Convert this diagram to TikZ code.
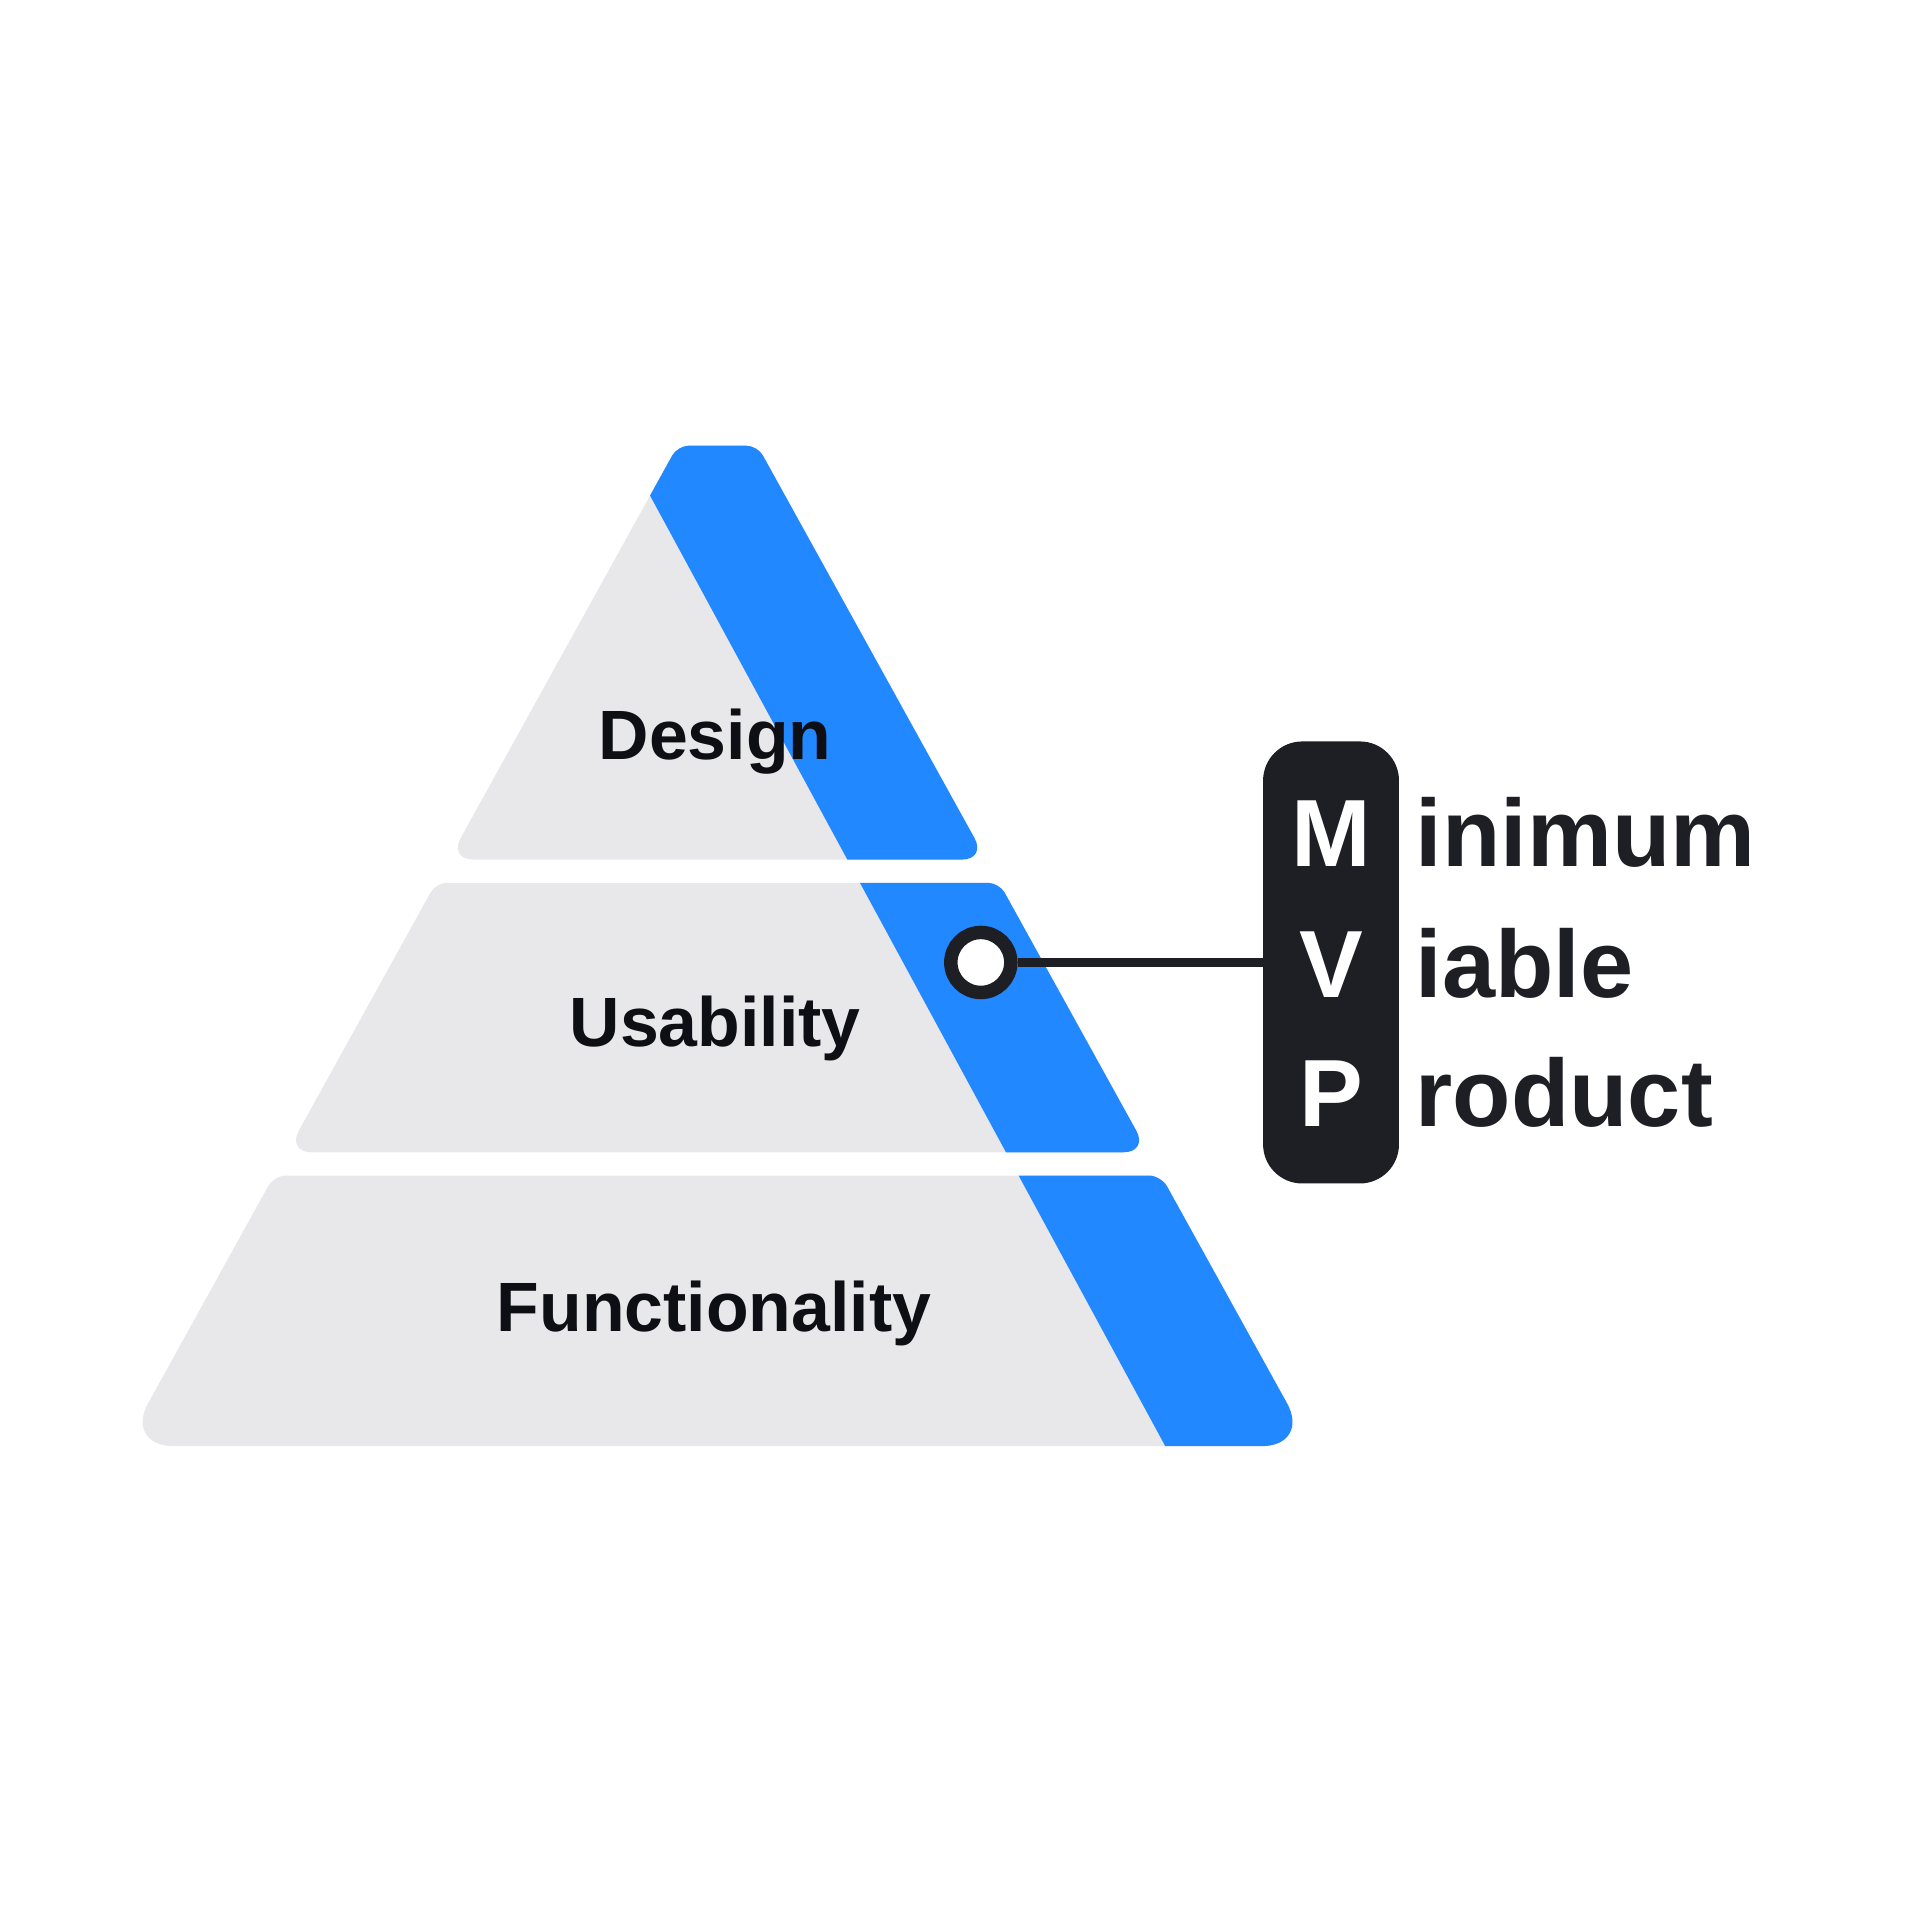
\documentclass[tikz,border=0pt]{standalone}
\usepackage{fontspec}
\setmainfont{Liberation Sans}
\usetikzlibrary{positioning}
\definecolor{tiergrey}{RGB}{232,232,235}
\definecolor{tierblue}{RGB}{33,136,255}
\definecolor{mvpdark}{RGB}{30,31,36}
\definecolor{labelink}{RGB}{14,15,20}
\begin{document}
\begin{tikzpicture}[x=1pt,y=-1pt,
  tierlabel/.style={font=\fontsize{57}{60}\selectfont\bfseries,text=labelink,anchor=base,inner sep=0},
  mvpletter/.style={font=\fontsize{78}{80}\selectfont\bfseries,text=white,anchor=base,inner sep=0},
  mvpword/.style={font=\fontsize{78}{80}\selectfont\bfseries,text=mvpdark,anchor=base west,inner sep=0}]
\useasboundingbox (0,0) rectangle (1568,1568);
% pyramid tiers, blue band on the right
\foreach \yt/\yb/\rt/\rb in {364/702/9pt/20pt,721/941/9pt/20pt,960/1181/10pt/40pt}{
  \pgfmathsetmacro\wt{0.553*(\yt-305)}
  \pgfmathsetmacro\wb{0.553*(\yb-305)}
  \pgfmathsetmacro\bt{692+0.542*(\yt-20-702)}
  \pgfmathsetmacro\bb{692+0.542*(\yb+20-702)}
  \begin{scope}
  \clip (586,\yt) [rounded corners=\rt] -- (586+\wt,\yt) [rounded corners=\rb] -- (586+\wb,\yb) -- (586-\wb,\yb) [rounded corners=\rt] -- (586-\wt,\yt) -- cycle;
  \fill[tiergrey] (0,\yt-30) rectangle (1200,\yb+30);
  \fill[tierblue] (\bt,\yt-20) -- (\bb,\yb+20) -- (1200,\yb+20) -- (1200,\yt-20) -- cycle;
  \end{scope}
}
\node[tierlabel] (design) at (584,620) {Design};
\node[tierlabel] (usability) at (584,855) {Usability};
\node[tierlabel] (functionality) at (583,1087) {Functionality};
%
\node[fill=mvpdark,rounded corners=32pt,minimum width=111pt,minimum height=361pt,inner sep=0] (mvp) at (1087,786) {};
\node[circle,draw=mvpdark,line width=11pt,fill=white,minimum size=49pt,inner sep=0] (dot) at (801,786) {};
\draw[mvpdark,line width=8pt] (dot.east) -- (dot.east -| mvp.west);
\node[mvpletter] (m) at (1087,708) {M};
\node[mvpletter] (v) at (1087,815) {V};
\node[mvpletter] (p) at (1087,920) {P};
\node[mvpword] (minimum) at (1156,708) {inimum};
\node[mvpword] (viable) at (1156,815) {iable};
\node[mvpword] (product) at (1156,920) {roduct};
\end{tikzpicture}
\end{document}
